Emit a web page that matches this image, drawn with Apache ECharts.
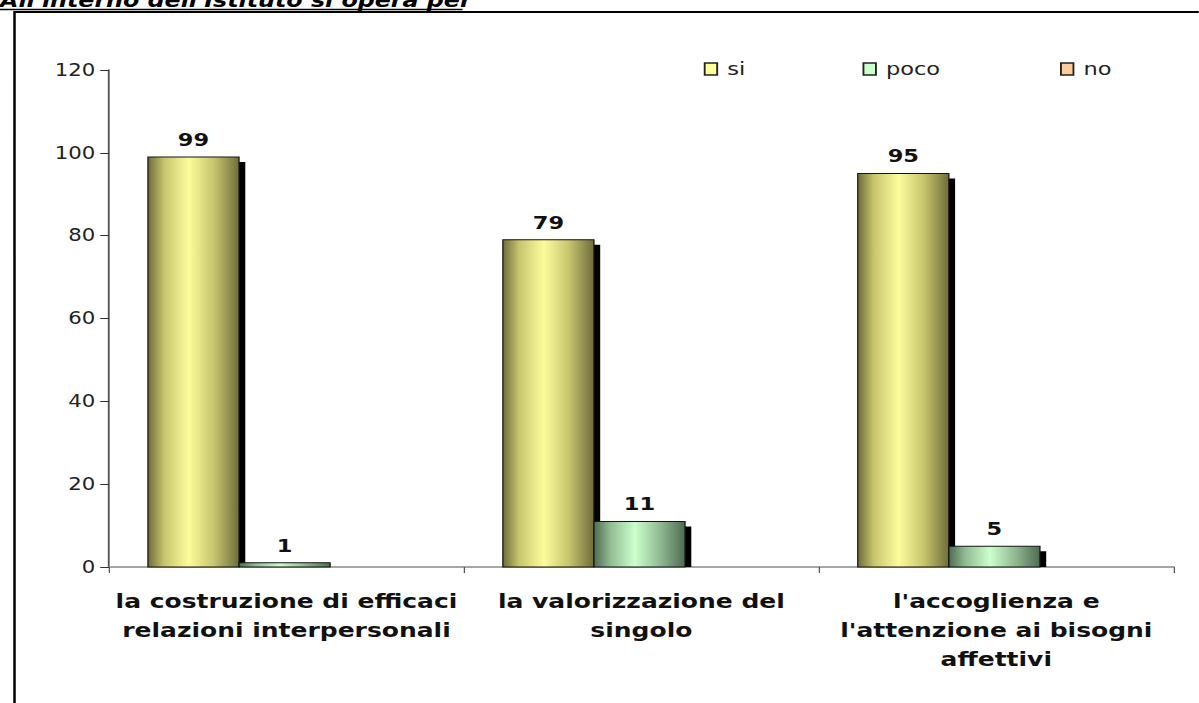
<!DOCTYPE html>
<html>
<head>
<meta charset="utf-8">
<script src="https://cdn.jsdelivr.net/npm/echarts@6/dist/echarts.min.js"></script>
<style>
  html, body { margin: 0; padding: 0; background: #fff; overflow: hidden; }
  /* the original picture is stretched sideways, so draw narrower and widen it */
  #chart { width: 959.2px; height: 703px; transform: scaleX(1.25); transform-origin: 0 0; }
</style>
</head>
<body>
<div id="chart"></div>
<script>
// Data
const categories = [
  "la costruzione di efficaci\nrelazioni interpersonali",
  "la valorizzazione del\nsingolo",
  "l'accoglienza e\nl'attenzione ai bisogni\naffettivi"
];
const seriesNames = ["si", "poco", "no"];
const siValues = [99, 79, 95];
const pocoValues = [1, 11, 5];
const noValues = [0, 0, 0];
const yTicks = [0, 20, 40, 60, 80, 100, 120];

const FONT = "DejaVu Sans";
const BAR_SHARE = 0.77;   // part of the band taken by the three bars

// cylinder-like shading: dark edges, light middle
function shade(edge, mid, light) {
  return new echarts.graphic.LinearGradient(0, 0, 1, 0, [
    { offset: 0, color: edge },
    { offset: 0.18, color: mid },
    { offset: 0.45, color: light },
    { offset: 0.72, color: mid },
    { offset: 1, color: edge }
  ]);
}

const styles = [
  { fill: shade('#6f6d3a', '#c8c66e', '#fdfc9c'), flat: '#ffff99' },
  { fill: shade('#4e6c50', '#92bb94', '#ccffcc'), flat: '#ccffcc' },
  { fill: shade('#8a5f3a', '#d39a68', '#ffcc99'), flat: '#ffcc99' }
];

function makeSeries(name, values, idx) {
  return {
    name: name,
    type: 'custom',
    data: values.map((v, i) => [i, v]),
    encode: { x: 0, y: 1 },
    itemStyle: { color: styles[idx].flat },
    renderItem: function (params, api) {
      const val = api.value(1);
      if (!val) return null;
      const base = api.coord([api.value(0), 0]);
      const top = api.coord([api.value(0), val]);
      const bw = api.size([1, 0])[0] * BAR_SHARE / 3;
      const x = base[0] - 1.5 * bw + idx * bw - 1.5;
      const h = base[1] - top[1];
      const sx = 5, sy = 5;
      return {
        type: 'group',
        children: [
          {
            type: 'rect',
            shape: { x: x + sx, y: top[1] + sy, width: bw, height: Math.max(0, h - sy) },
            style: { fill: '#000' }
          },
          {
            type: 'rect',
            shape: { x: x, y: top[1], width: bw, height: h },
            style: { fill: styles[idx].fill, stroke: '#151515', lineWidth: 1 },
            textContent: {
              style: {
                text: String(val),
                fontFamily: FONT,
                fontWeight: 'bold',
                fontSize: 18,
                fill: '#111'
              }
            },
            textConfig: { position: 'top', distance: 8 }
          }
        ]
      };
    }
  };
}

const chart = echarts.init(document.getElementById('chart'), null, { renderer: 'svg' });
chart.setOption({
  animation: false,
  graphic: [
    {
      type: 'text',
      x: 0,
      y: 10,
      style: {
        text: "All'interno dell'Istituto si opera per",
        fontFamily: FONT,
        fontWeight: 'bold',
        fontStyle: 'italic',
        fontSize: 19,
        fill: '#000',
        verticalAlign: 'bottom'
      }
    },
    {
      type: 'line',
      shape: { x1: 0, y1: 9.5, x2: 370, y2: 9.5 },
      style: { stroke: '#000', lineWidth: 1.5 }
    },
    {
      type: 'rect',
      shape: { x: 11.6, y: 12, width: 1300, height: 800 },
      style: { fill: 'none', stroke: '#000', lineWidth: 2 }
    }
  ],
  legend: seriesNames.map((n, i) => ({
    top: 60,
    left: [563, 690, 848][i],
    padding: 0,
    itemWidth: 10,
    itemHeight: 12,
    icon: 'rect',
    textStyle: { fontFamily: FONT, fontSize: 18, color: '#222', padding: [0, 0, 0, 3] },
    data: [{
      name: n,
      itemStyle: { color: styles[i].flat, borderColor: '#222', borderWidth: 1.5 }
    }]
  })),
  grid: { left: 87.2, right: 20, top: 70, bottom: 136 },
  xAxis: {
    type: 'category',
    data: categories,
    axisLine: { lineStyle: { color: '#888', width: 1.5 } },
    axisTick: { show: true, length: 6, lineStyle: { color: '#555' } },
    axisLabel: {
      fontFamily: FONT,
      fontWeight: 'bold',
      fontSize: 20,
      color: '#111',
      lineHeight: 29,
      margin: 19,
      interval: 0
    }
  },
  yAxis: {
    type: 'value',
    min: yTicks[0],
    max: yTicks[yTicks.length - 1],
    interval: 20,
    splitLine: { show: false },
    axisLine: { show: true, lineStyle: { color: '#555', width: 1.5 } },
    axisTick: { show: true, length: 7, lineStyle: { color: '#333' } },
    axisLabel: { fontFamily: FONT, fontSize: 17, color: '#222', margin: 11 }
  },
  series: [
    makeSeries(seriesNames[0], siValues, 0),
    makeSeries(seriesNames[1], pocoValues, 1),
    makeSeries(seriesNames[2], noValues, 2)
  ]
});
</script>
</body>
</html>
